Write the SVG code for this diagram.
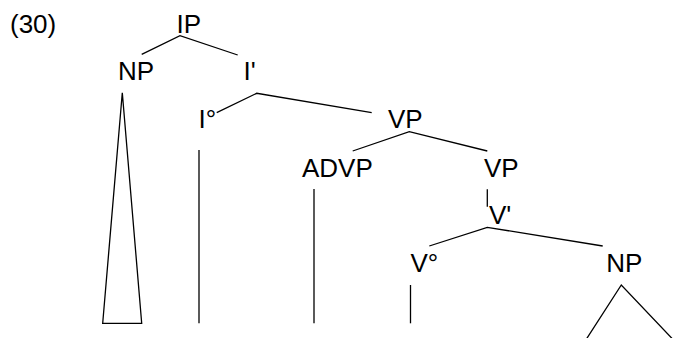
<svg xmlns="http://www.w3.org/2000/svg" width="674" height="338" viewBox="0 0 674 338">
<style>
text{font-family:"Liberation Sans",Arial,sans-serif;font-size:26px;fill:#000}
.e{stroke:#000;stroke-width:1.3;fill:none}
</style>
<rect width="674" height="338" fill="#fff"/>
<text x="10" y="32.5">(30)</text>
<g id="IP"><text x="176.6" y="32.5">IP</text></g>
<g id="NP1"><text x="118" y="80">NP</text></g>
<g id="Ibar"><text x="243.6" y="80">I'</text></g>
<g id="I0"><text x="198.6" y="127.7">I°</text></g>
<g id="VP1"><text x="388" y="127.7">VP</text></g>
<g id="ADVP"><text x="302" y="176.7">ADVP</text></g>
<g id="VP2"><text x="484" y="176.7">VP</text></g>
<g id="Vbar"><text x="489" y="224">V'</text></g>
<g id="V0"><text x="410.5" y="272.3">V°</text></g>
<g id="NP2"><text x="606.3" y="272.3">NP</text></g>
<g id="connectors" class="e">
<polyline points="141.7,54.3 180,35.7 237.7,55"/>
<polygon points="122.3,92.7 102.7,323.3 141.7,323.3"/>
<polyline points="216.7,112.7 256.7,93.3 371.7,112.7"/>
<line x1="199" y1="150" x2="199" y2="323.3"/>
<polyline points="352.7,151 409.3,131.7 487.3,151"/>
<line x1="314" y1="189" x2="314" y2="323.3"/>
<line x1="487.3" y1="189.3" x2="487.3" y2="206.7"/>
<polyline points="429.3,246 487.3,227.3 602.7,246"/>
<line x1="410.5" y1="285" x2="410.5" y2="323.3"/>
<polyline points="585.8,340 621.3,285 673.5,340"/>
</g>
</svg>
